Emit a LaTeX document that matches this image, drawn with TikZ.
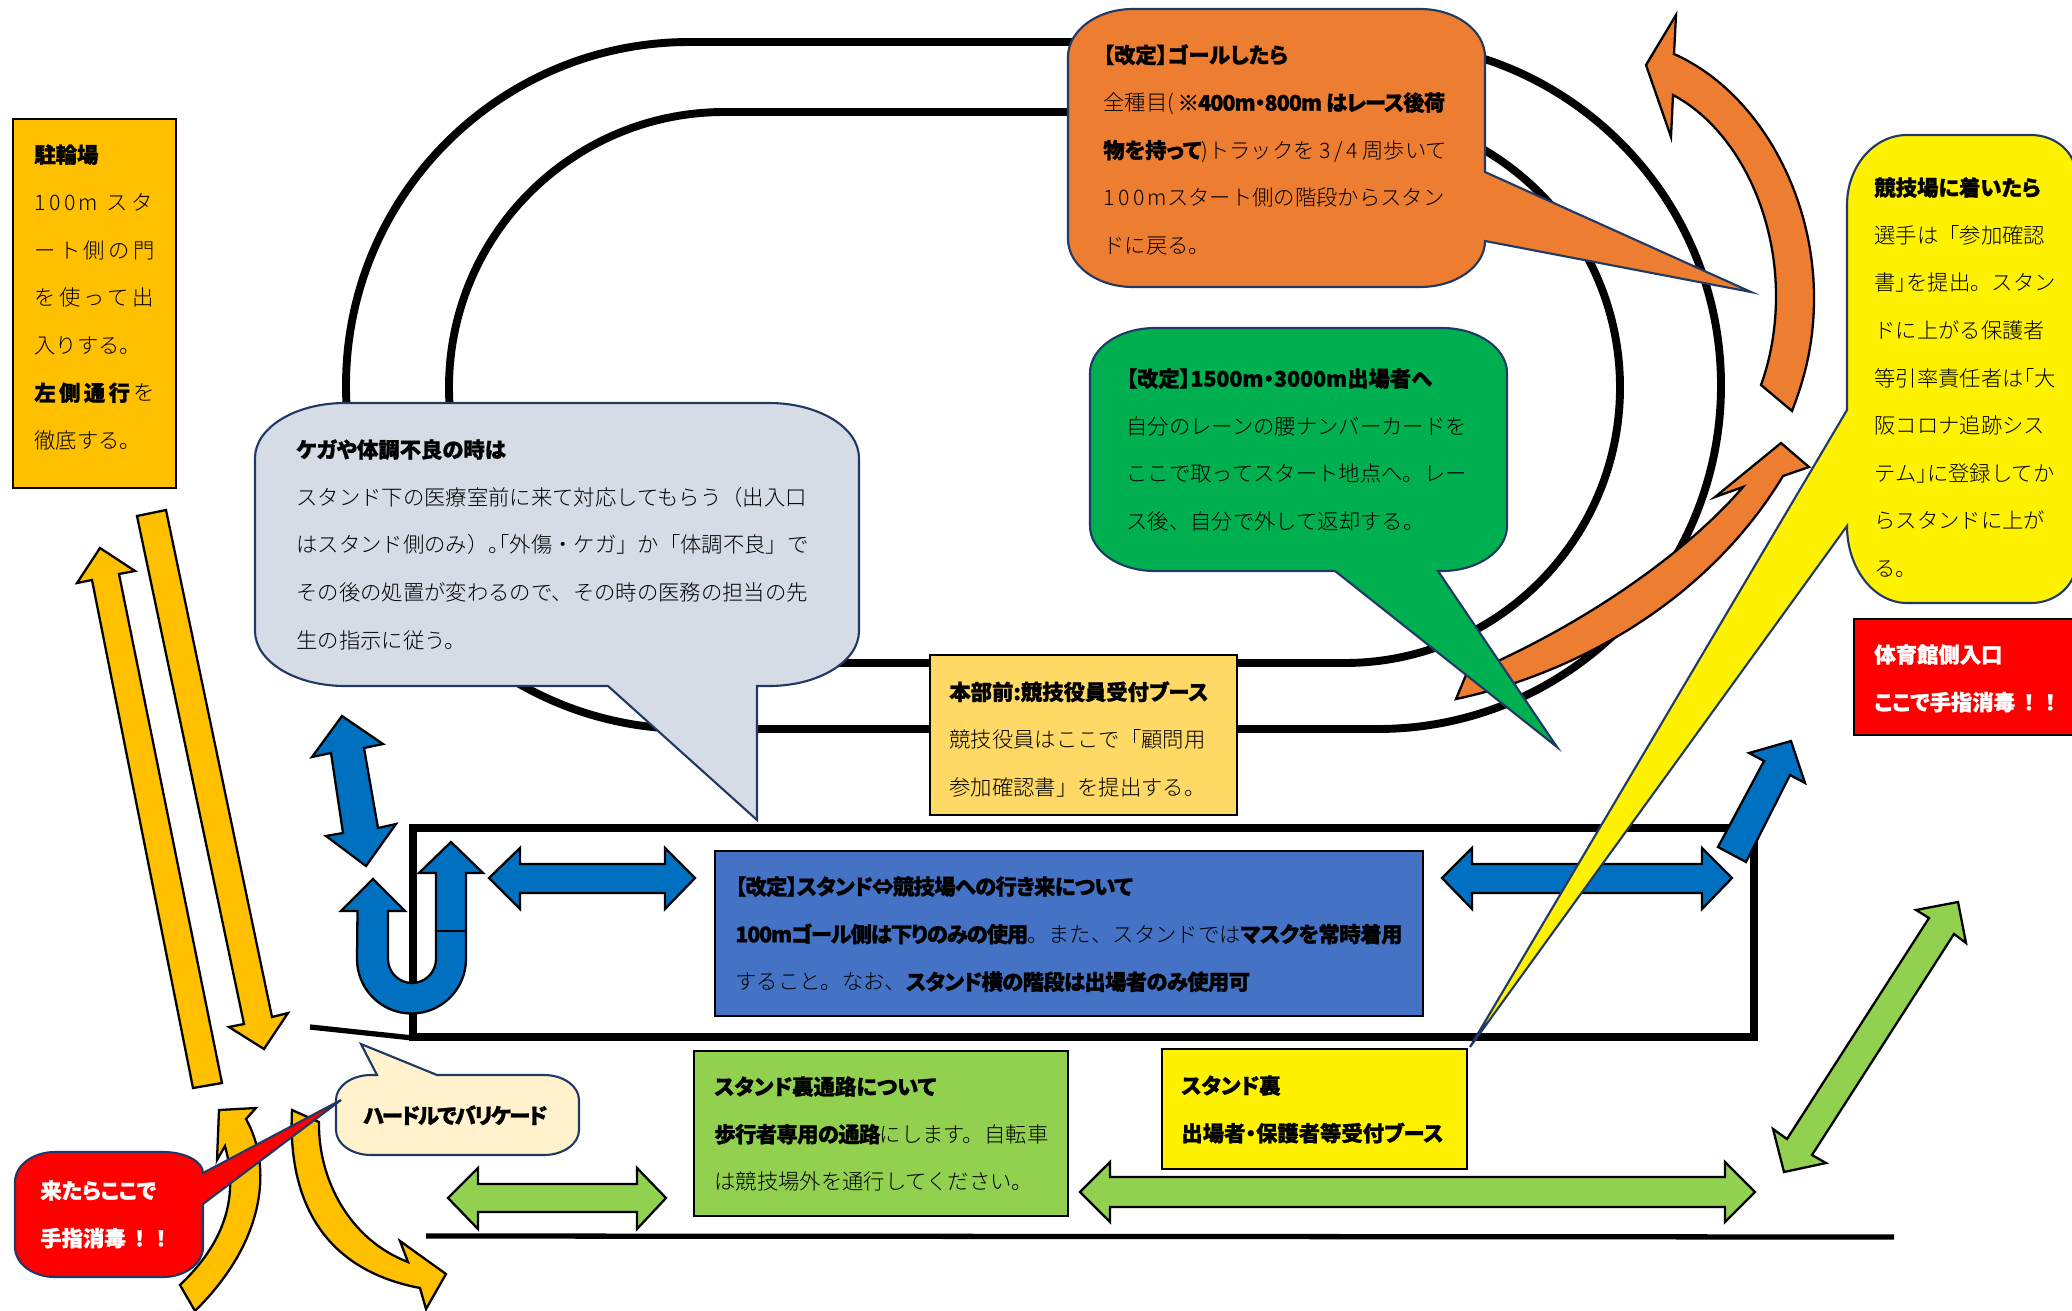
\documentclass[tikz,border=0pt]{standalone}
\usepackage{fontspec}
\setmainfont{Noto Sans CJK JP}[UprightFont={Noto Sans CJK JP Light},BoldFont={Noto Sans CJK JP Black},BoldFeatures={RawFeature=+palt,FakeBold=1.2}]
\usetikzlibrary{positioning}

\definecolor{navyline}{HTML}{203864}
\definecolor{amberfill}{HTML}{FFC000}
\definecolor{bluefill}{HTML}{0070C0}
\definecolor{orangefill}{HTML}{ED7D31}
\definecolor{limefill}{HTML}{92D050}
\definecolor{greenfill}{HTML}{00B050}
\definecolor{greyfill}{HTML}{D6DCE5}
\definecolor{creamfill}{HTML}{FFF2CC}
\definecolor{goldfill}{HTML}{FFD966}
\definecolor{boxblue}{HTML}{4472C4}

\newcommand{\spreadtxt}[1]{{\addfontfeature{LetterSpace=16}#1}}
\newcommand{\tighttxt}[2][-3]{{\addfontfeature{LetterSpace=#1}#2}}
\newcommand{\paltxt}[1]{{\addfontfeature{RawFeature=+palt}#1}}

\tikzset{
  trackline/.style={draw=black, line width=4.5pt},
  wallline/.style={draw=black, line width=4.5pt, line join=miter},
  groundline/.style={draw=black, line width=3pt},
  callout/.style={draw=navyline, line width=1.2pt, line join=miter},
  infobox/.style={draw=black, line width=0.8pt},
  blockarrow/.style={draw=black, line width=1.3pt, line join=miter},
  note/.style={anchor=north west, inner sep=0pt, align=left, text=black,
    font=\fontsize{12.15}{27.1}\selectfont},
}

\begin{document}
\begin{tikzpicture}[x=0.02cm, y=-0.02cm]
\useasboundingbox (0,0) rectangle (2072,1311);
\clip (0,0) rectangle (2072,1311);

% track
\draw[trackline, rounded corners=6.87cm] (346,42) rectangle (1721,729);
\draw[trackline, rounded corners=5.51cm] (449,112) rectangle (1620,663);

% stand
\draw[wallline] (413,828) rectangle (1754,1037);
\draw[groundline] (310,1027) -- (413,1038);
\draw[groundline] (426,1236) -- (1894,1237);

% amber arrows
\draw[blockarrow, fill=amberfill] (100,548) -- (135,571) -- (119,574) -- (222,1083) -- (193,1088) -- (92,580) -- (77,583) -- cycle;
\draw[blockarrow, fill=amberfill] (137,516) -- (166,510) -- (272,1017) -- (288,1013) -- (264,1049) -- (229,1027) -- (244,1024) -- cycle;
\draw[blockarrow, fill=amberfill] (219,1110) -- (256,1108) -- (246,1119) .. controls (272,1165) and (267,1240) .. (195,1311) -- (180,1285) .. controls (222,1245) and (240,1200) .. (225,1146) -- (217,1160) -- cycle;
\draw[blockarrow, fill=amberfill] (292,1110) -- (319,1122) .. controls (318,1180) and (350,1240) .. (408,1262) -- (400,1241) -- (446,1274) -- (426,1309) -- (420,1288) .. controls (315,1268) and (288,1190) .. (292,1110) -- cycle;

% blue arrows
\draw[blockarrow, fill=bluefill] (342,716) -- (383,744) -- (364,748) -- (378,828) -- (396,824) -- (366,866) -- (326,836) -- (343,833) -- (331,753) -- (312,757) -- cycle;
\draw[blockarrow, fill=bluefill] (373,879) -- (405,911) -- (388,911) -- (388,959) arc (180:0:24) -- (436,873) -- (419,873) -- (451,842) -- (483,873) -- (466,873) -- (466,959) arc (0:180:54.5) -- (357.5,911) -- (341,911) -- cycle;
\draw[blockarrow] (436,931) -- (466,931);
\draw[blockarrow, fill=bluefill] (489,878) -- (520,848) -- (520,864) -- (665,864) -- (665,848) -- (695,878) -- (665,909) -- (665,893) -- (520,893) -- (520,909) -- cycle;
\draw[blockarrow, fill=bluefill] (1442,878) -- (1472,848) -- (1472,864) -- (1702,864) -- (1702,848) -- (1732,878) -- (1702,909) -- (1702,893) -- (1472,893) -- (1472,909) -- cycle;
\draw[blockarrow, fill=bluefill] (1791,741) -- (1805,783) -- (1790,775) -- (1746,862) -- (1718,847) -- (1764,761) -- (1749,753) -- cycle;

% green arrows
\draw[blockarrow, fill=limefill] (448,1198) -- (478,1168) -- (478,1184) -- (637,1184) -- (637,1168) -- (666,1198) -- (637,1229) -- (637,1212) -- (478,1212) -- (478,1229) -- cycle;
\draw[blockarrow, fill=limefill] (1080,1192) -- (1110,1162) -- (1110,1177) -- (1725,1177) -- (1725,1162) -- (1755,1192) -- (1725,1222) -- (1725,1207) -- (1110,1207) -- (1110,1222) -- cycle;
\draw[blockarrow, fill=limefill] (1958,902) -- (1966,943) -- (1954,934) -- (1812,1155) -- (1826,1163) -- (1784,1172) -- (1773,1129) -- (1787,1139) -- (1929,918) -- (1916,910) -- cycle;

% orange arrows
\draw[blockarrow, fill=orangefill] (1676,15) -- (1646,65) -- (1671,137) -- (1673,95) .. controls (1735,128) and (1776,210) .. (1776,296) .. controls (1776,330) and (1770,360) .. (1761,385) -- (1792,411) .. controls (1806,375) and (1814,340) .. (1814,298) .. controls (1814,190) and (1755,90) .. (1674,54) -- cycle;
\draw[blockarrow, fill=orangefill] (1809,467) -- (1781,443) -- (1715,497) -- (1743,487) .. controls (1680,560) and (1570,632) .. (1466,675) -- (1456,699) .. controls (1570,675) and (1705,605) .. (1783,476) -- cycle;

% callouts
\draw[callout, fill=orangefill] (1133,9) -- (1420,9) arc (270:360:65 and 48) -- (1485,172) -- (1751,292) -- (1485,241) arc (0:90:65 and 46) -- (1133,287) arc (90:180:65 and 48) -- (1068,57) arc (180:270:65 and 48) -- cycle;
\node[note] (goalnote) at (1103,44) {\textbf{【改定】ゴールしたら}\\全種目(\,\textbf{\tighttxt[-4]{※400m・800m はレース後荷}}\\\textbf{物を持って})トラックを \spreadtxt{3/4} 周歩いて\\\spreadtxt{100m}スタート側の階段からスタン\\ドに戻る。};

\draw[callout, fill=greenfill] (1155,328) -- (1442,328) arc (270:360:65 and 45) -- (1507,526) arc (0:90:65 and 45) -- (1438,571) -- (1557,747) -- (1335,571) -- (1155,571) arc (90:180:65 and 45) -- (1090,373) arc (180:270:65 and 45) -- cycle;
\node[note] (numbernote) at (1126,368) {\textbf{【改定】1500m・3000m出場者へ}\\自分のレーンの腰ナンバーカードを\\ここで取ってスタート地点へ。レー\\ス後、自分で外して返却する。};

\draw[callout, fill=greyfill] (345,403) -- (769,403) arc (270:360:90 and 55) -- (859,631) arc (0:90:90 and 55) -- (757,686) -- (757,820) -- (608,686) -- (345,686) arc (90:180:90 and 55) -- (255,458) arc (180:270:90 and 55) -- cycle;
\node[note] (medicalnote) at (296,439) {\textbf{ケガや体調不良の時は}\\スタンド下の医療室前に来て対応してもらう（出入口\\はスタンド側のみ）\paltxt{。「}外傷・ケガ」か「体調不良」で\\その後の処置が変わるので、その時の医務の担当の先\\生の指示に従う。};

\draw[callout, fill=creamfill] (371,1075) -- (377,1075) -- (361,1044) -- (437,1075) -- (544,1075) arc (270:360:35 and 25) -- (579,1130) arc (0:90:35 and 25) -- (371,1155) arc (90:180:35 and 25) -- (336,1100) arc (180:270:35 and 25) -- cycle;
\node[note] (hurdlenote) at (363,1105) {\textbf{\tighttxt[-8]{ハードルでバリケード}}};

\draw[callout, fill=red] (55,1152) -- (163,1152) arc (270:360:40 and 21) -- (341,1100) -- (203,1204) -- (203,1247) arc (0:90:40 and 30) -- (55,1277) arc (90:180:40 and 30) -- (15,1182) arc (180:270:40 and 30) -- cycle;
\node[note, text=white] (sanitizenote) at (40,1180) {\textbf{来たらここで}\\\textbf{手指消毒\hspace{0.4em}！\hspace{0.5em}！}};

% boxes
\draw[infobox, fill=amberfill] (13,119) rectangle (176,488);
\node[note] (parkingnote) at (34,144) {\textbf{駐輪場}\\\spreadtxt{100m スタ}\\\spreadtxt{ート側の門}\\\spreadtxt{を使って出}\\入りする。\\\textbf{\spreadtxt{左側通行}}\spreadtxt{を}\\徹底する。};

\draw[infobox, fill=goldfill] (930,655) rectangle (1237,815);
\node[note] (officialnote) at (949,681) {\textbf{本部前:競技役員受付ブース}\\競技役員はここで「顧問用\\参加確認書」を提出する。};

\draw[infobox, fill=boxblue] (715,851) rectangle (1423,1016);
\node[note] (standnote) at (735,876) {\textbf{\tighttxt{【改定】スタンド⇔競技場への行き来について}}\\\textbf{\tighttxt[-5]{100mゴール側は下りのみの使用}}。また、スタンドでは\textbf{\tighttxt[-2]{マスクを常時着用}}\\すること。なお、\textbf{\tighttxt{スタンド横の階段は出場者のみ使用可}}};

\draw[infobox, fill=limefill] (694,1051) rectangle (1068,1216);
\node[note] (passagenote) at (714,1076) {\textbf{スタンド裏通路について}\\\textbf{\tighttxt{歩行者専用の通路}}にします。自転車\\は競技場外を通行してください。};

\draw[infobox, fill=yellow] (1162,1049) rectangle (1467,1169);
\node[note] (receptionnote) at (1181,1075) {\textbf{スタンド裏}\\\textbf{出場者・保護者等受付ブース}};

\draw[infobox, fill=red] (1854,619) rectangle (2080,735);
\node[note, text=white] (gymnote) at (1874,644) {\textbf{体育館側入口}\\\textbf{ここで手指消毒\hspace{0.4em}！\hspace{0.5em}！}};

% yellow callout goes over the stand
\draw[callout, fill=yellow] (1907,135) -- (2031,135) arc (270:360:45 and 40) -- (2076,563) arc (0:90:45 and 40) -- (1907,603) arc (90:180:60 and 77) -- (1470,1047) -- (1847,410) -- (1847,205) arc (180:270:60 and 70) -- cycle;
\node[note] (arrivalnote) at (1874,177) {\textbf{競技場に着いたら}\\選手は「参加確認\\書\paltxt{」}を提出。スタン\\ドに上がる保護者\\等引率責任者は\paltxt{「}大\\阪コロナ追跡シス\\テム\paltxt{」}に登録してか\\らスタンドに上が\\る。};
\end{tikzpicture}
\end{document}
